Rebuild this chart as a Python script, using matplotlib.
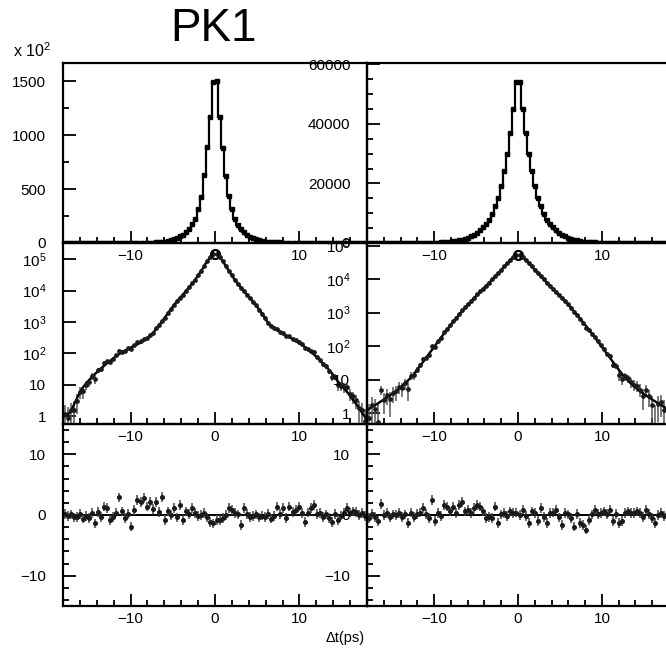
import numpy as np
import matplotlib
matplotlib.use("Agg")
import matplotlib.pyplot as plt
from matplotlib.ticker import MultipleLocator, LogLocator, NullFormatter

plt.rcParams['font.family'] = ['Liberation Sans', 'DejaVu Sans']
plt.rcParams['mathtext.fontset'] = 'custom'
plt.rcParams['mathtext.rm'] = 'Liberation Sans'
plt.rcParams['mathtext.it'] = 'Liberation Sans'
plt.rcParams['axes.unicode_minus'] = True

# 100 bins of 0.36 ps between -18 and 18 ps
bin_edges = np.linspace(-18, 18, 101)

# fitted bin contents (left and right column)
fit_left = [
    1.0, 1.1, 1.4, 2.2, 3.6, 5.5, 8.1, 10.7, 13.8, 17.4,
    22, 27, 33, 40, 48, 58, 69, 82, 95, 108,
    123, 141, 158, 174, 195, 219, 251, 295, 347, 427,
    575, 760, 1020, 1380, 1900, 2570, 3470, 4570, 5890, 7590,
    10000, 12900, 17000, 22400, 31600, 42700, 63100, 89100, 117000, 150000,
    150000, 117000, 88000, 62000, 43500, 31000, 22000, 16800, 12700, 9800,
    7500, 5800, 4500, 3400, 2500, 1850, 1330, 910, 760, 645,
    560, 480, 415, 360, 325, 285, 250, 215, 188, 162,
    135, 110, 93, 75, 60, 47, 38, 30, 23, 17,
    12.5, 9.5, 7.5, 5.8, 4.3, 3.2, 2.4, 1.8, 1.2, 0.9,
]
fit_right = [
    1.3, 1.5, 1.7, 1.9, 2.2, 2.5, 2.9, 3.3, 3.8, 4.4,
    5.2, 6.2, 7.5, 9.2, 11.5, 14.5, 19, 25, 33, 44,
    58, 77, 102, 135, 178, 235, 310, 400, 520, 670,
    860, 1100, 1400, 1750, 2200, 2750, 3400, 4200, 5200, 6400,
    7900, 9800, 12200, 15200, 19000, 24000, 30000, 37000, 45000, 54000,
    54000, 45000, 37000, 30000, 24000, 19000, 15200, 12200, 9800, 7900,
    6400, 5200, 4200, 3400, 2750, 2200, 1750, 1400, 1100, 860,
    670, 520, 400, 310, 235, 178, 135, 102, 77, 58,
    44, 33, 25, 19, 14.5, 11.5, 9.2, 7.5, 6.2, 5.2,
    4.4, 3.8, 3.3, 2.9, 2.5, 2.2, 1.9, 1.7, 1.5, 1.3,
]

# normalised residuals (data - fit) / sigma
resid_left = [
    0.2, -0.2, 0.1, -0.4, -0.3, 0.2, -0.6, -0.2, -0.5, 0.3,
    -1.4, 0.5, -0.3, 1.4, 1.1, -0.8, -0.3, 0.4, 2.9, 0.6,
    -0.5, 0.2, -1.9, 0.8, 2.5, 2.2, 2.8, 1.4, 2.2, 1.0,
    2.2, 0.5, 3.0, -0.8, 0.6, 0.0, 1.1, -0.4, 1.7, -0.8,
    0.6, 0.2, 1.1, 0.3, -0.2, 0.0, 0.3, -0.4, -1.1, -1.4,
    -0.8, -0.8, -0.5, 0.0, 1.1, 0.8, 0.3, 0.1, -1.7, 1.1,
    0.2, -0.3, -0.2, 0.1, -0.4, -0.1, -0.3, 0.2, -0.6, -0.2,
    1.4, 0.2, 1.1, -0.5, 1.4, 0.5, 0.8, 1.4, 0.3, -1.1,
    0.4, 1.1, 1.7, 0.2, 0.3, -0.3, 0.1, -0.5, -1.1, 0.2,
    -0.8, -0.1, 0.3, 1.1, 0.4, 0.6, 0.5, 0.0, 0.3, -0.2,
]
resid_right = [
    -0.5, 0.2, -0.3, -1.0, 1.8, 0.0, 0.3, -0.4, 0.1, 0.0,
    0.3, -0.3, 0.1, -1.3, 0.4, -0.3, 0.2, 0.4, 1.2, 0.2,
    -0.5, 2.5, -1.0, 0.3, -0.2, 1.7, 1.4, 0.6, 1.4, 0.3,
    1.7, 2.2, 0.6, 0.8, 0.3, 1.2, 1.7, 1.4, 0.6, -0.5,
    -0.3, -0.5, 1.4, -1.3, 0.1, 0.3, -0.2, 0.6, 0.3, 0.4,
    0.0, 0.9, -0.2, -1.3, 0.6, 0.3, -1.0, 1.2, -0.3, -1.3,
    0.3, 0.4, 0.9, -0.4, -1.6, 0.3, 0.1, -0.5, -1.9, 0.2,
    -1.3, -1.6, -2.4, -0.8, 0.1, 0.9, 0.2, 0.3, 0.6, 0.2,
    0.9, -1.0, 0.2, -1.3, -1.0, 0.3, 0.6, 0.3, 0.3, 0.6,
    0.3, -0.3, 0.9, 0.2, -0.5, -1.3, 0.0, 0.3, -0.2, 0.1,
]
resid_err = 0.8

log_ticks = [1, 10, 100, 1e3, 1e4, 1e5]
log_labels = ['1', '10', r'$\mathregular{10^{2}}$', r'$\mathregular{10^{3}}$',
              r'$\mathregular{10^{4}}$', r'$\mathregular{10^{5}}$']

W, H = 666, 650
fig = plt.figure(figsize=(W / 100, H / 100), dpi=100)

col_x = [63, 367]
col_w = [304, 302]
row_y = [(63, 243), (243, 424), (424, 606)]


def add_ax(col, row):
    x0 = col_x[col] / W
    y_top, y_bot = row_y[row]
    ax = fig.add_axes([x0, 1 - y_bot / H, col_w[col] / W, (y_bot - y_top) / H])
    ax.set_facecolor('none')
    for s in ax.spines.values():
        s.set_linewidth(1.6)
    ax.set_xlim(-18, 18)
    ax.xaxis.set_major_locator(MultipleLocator(10))
    ax.xaxis.set_minor_locator(MultipleLocator(2))
    ax.tick_params(which='both', direction='in', labelsize=11, width=1.3,
                   top=False, right=False)
    ax.tick_params(axis='y', which='both', pad=12)
    ax.tick_params(axis='x', which='both', pad=4)
    ax.tick_params(which='major', length=9)
    ax.tick_params(which='minor', length=4.5)
    return ax


centers = 0.5 * (bin_edges[1:] + bin_edges[:-1])
columns = [(fit_left, resid_left), (fit_right, resid_right)]

for col, (fit, resid) in enumerate(columns):
    fit = np.array(fit, dtype=float)
    resid = np.array(resid, dtype=float)
    sigma = np.sqrt(fit)
    data = fit + resid * sigma

    # bottom: residuals
    ax = add_ax(col, 2)
    ax.axhline(0, color='k', lw=1.4)
    ax.errorbar(centers, resid, yerr=resid_err, fmt='o', ms=2.6, color='#1a1a1a',
                ecolor='#444444', elinewidth=1.1, capsize=0)
    ax.set_ylim(-15, 15)
    ax.yaxis.set_major_locator(MultipleLocator(10))
    ax.yaxis.set_minor_locator(MultipleLocator(2))

    # middle: log scale
    ax = add_ax(col, 1)
    ax.set_yscale('log')
    ok = data > 0
    lo = np.minimum(sigma, 0.9 * data)
    ax.errorbar(centers[ok], data[ok], yerr=[lo[ok], sigma[ok]], fmt='o', ms=2.4,
                color='#1a1a1a', ecolor='#555555', elinewidth=1.1, capsize=0)
    ax.plot(centers, fit, color='k', lw=1.7)
    ax.plot([0], [data.max()], 'o', ms=6.5, mfc='white', mec='k', mew=1.5)
    if col == 0:
        ax.set_ylim(0.56, 3.3e5)
    else:
        ax.set_ylim(0.47, 1.2e5)
    ax.set_yticks(log_ticks)
    ax.set_yticklabels(log_labels)
    ax.yaxis.set_minor_locator(LogLocator(base=10, subs=np.arange(2, 10)))
    ax.yaxis.set_minor_formatter(NullFormatter())

    # top: linear histogram
    ax = add_ax(col, 0)
    if col == 0:
        shown = data / 100.0
        ax.set_ylim(0, 1667)
        ax.yaxis.set_major_locator(MultipleLocator(500))
        ax.yaxis.set_minor_locator(MultipleLocator(250))
    else:
        shown = data
        ax.set_ylim(0, 60500)
        ax.yaxis.set_major_locator(MultipleLocator(20000))
        ax.yaxis.set_minor_locator(MultipleLocator(5000))
    ax.stairs(shown, bin_edges, color='k', lw=1.6)
    ax.plot(centers, shown, 's', ms=2.4, color='k')

fig.text(214 / W, 1 - 29 / H, 'PK1', ha='center', va='center', fontsize=33)
fig.text(13 / W, 1 - 51 / H, r'x 10$\mathregular{^{2}}$', ha='left', va='center',
         fontsize=11.5)
fig.text(365 / W, 1 - 638 / H, 'Δt(ps)', ha='right', va='center', fontsize=10.5)

fig.savefig('out.png', dpi=100)
